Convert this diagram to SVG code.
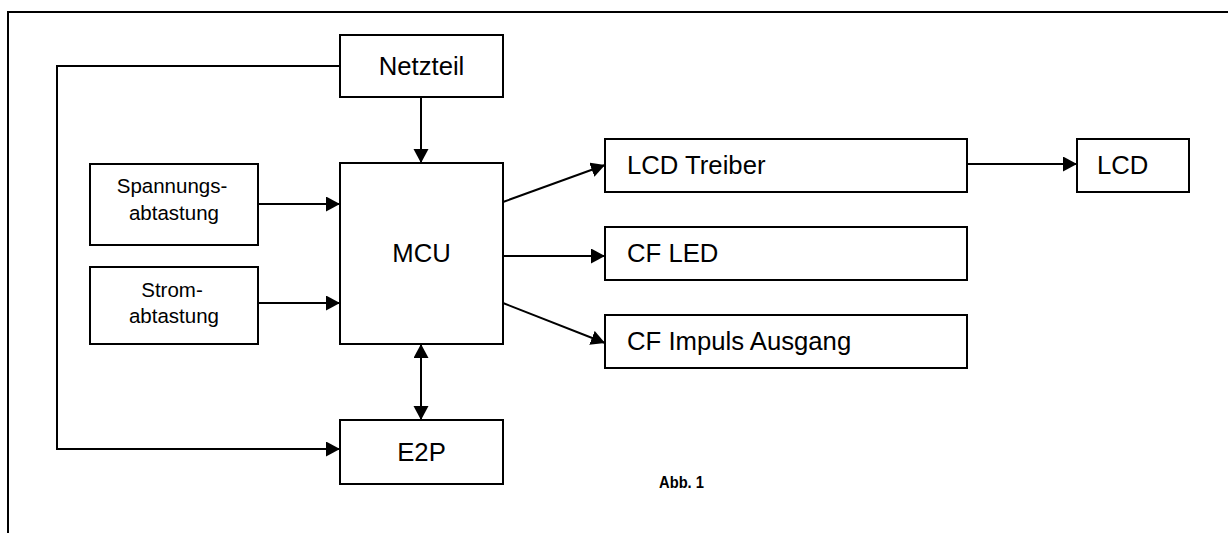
<svg xmlns="http://www.w3.org/2000/svg" width="1228" height="533" viewBox="0 0 1228 533">
<style>
.box{fill:#fff;stroke:#000;stroke-width:2}
.t{font-family:"Liberation Sans",Arial,sans-serif;font-size:25.7px;fill:#000}
.s{font-family:"Liberation Sans",Arial,sans-serif;font-size:20.5px;fill:#000;text-anchor:middle}
.c{text-anchor:middle}
.ln{fill:none;stroke:#000;stroke-width:2}
.ar{fill:none;stroke:#000;stroke-width:2;marker-end:url(#ah)}
</style>
<defs>
<marker id="ah" markerUnits="userSpaceOnUse" markerWidth="15" markerHeight="16" refX="14" refY="7.5" orient="auto-start-reverse">
<path d="M0,0 L14,7.5 L0,15 Z" fill="#000"/>
</marker>
</defs>
<rect width="1228" height="533" fill="#fff"/>
<path d="M8,533 V12 H1228" fill="none" stroke="#000" stroke-width="2"/>
<g id="connectors">
<path class="ln" d="M340,66 H57 V449 H326"/>
<line class="ar" x1="326" y1="449" x2="340" y2="449"/>
<line class="ar" x1="421" y1="97" x2="421" y2="163"/>
<line class="ar" x1="421" y1="344" x2="421" y2="420" style="marker-start:url(#ah)"/>
<line class="ar" x1="258" y1="204" x2="340" y2="204"/>
<line class="ar" x1="258" y1="303" x2="340" y2="303"/>
<line class="ar" x1="503" y1="202" x2="605" y2="165"/>
<line class="ar" x1="503" y1="256" x2="605" y2="256"/>
<line class="ar" x1="503" y1="303" x2="605" y2="343"/>
<line class="ar" x1="967" y1="164" x2="1077" y2="164"/>
</g>
<g id="netzteil"><rect class="box" x="340" y="35" width="163" height="62"/><text class="t c" x="421.5" y="75">Netzteil</text></g>
<g id="mcu"><rect class="box" x="340" y="163" width="163" height="181"/><text class="t c" x="421.5" y="262">MCU</text></g>
<g id="e2p"><rect class="box" x="340" y="420" width="163" height="64"/><text class="t c" x="421.5" y="461">E2P</text></g>
<g id="spannung"><rect class="box" x="90" y="164" width="168" height="81"/><text class="s" x="172" y="193">Spannungs-</text><text class="s" x="174" y="220">abtastung</text></g>
<g id="strom"><rect class="box" x="90" y="267" width="168" height="77"/><text class="s" x="172" y="297">Strom-</text><text class="s" x="174" y="323">abtastung</text></g>
<g id="lcdtreiber"><rect class="box" x="605" y="139" width="362" height="53"/><text class="t" x="627" y="174">LCD Treiber</text></g>
<g id="cfled"><rect class="box" x="605" y="227" width="362" height="53"/><text class="t" x="627" y="262">CF LED</text></g>
<g id="cfimpuls"><rect class="box" x="605" y="315" width="362" height="53"/><text class="t" x="627" y="350">CF Impuls Ausgang</text></g>
<g id="lcd"><rect class="box" x="1077" y="139" width="112" height="53"/><text class="t" x="1097" y="174">LCD</text></g>
<text x="659" y="488" font-family="'Liberation Sans',Arial,sans-serif" font-weight="bold" font-size="17" textLength="45" lengthAdjust="spacingAndGlyphs">Abb. 1</text>
</svg>
